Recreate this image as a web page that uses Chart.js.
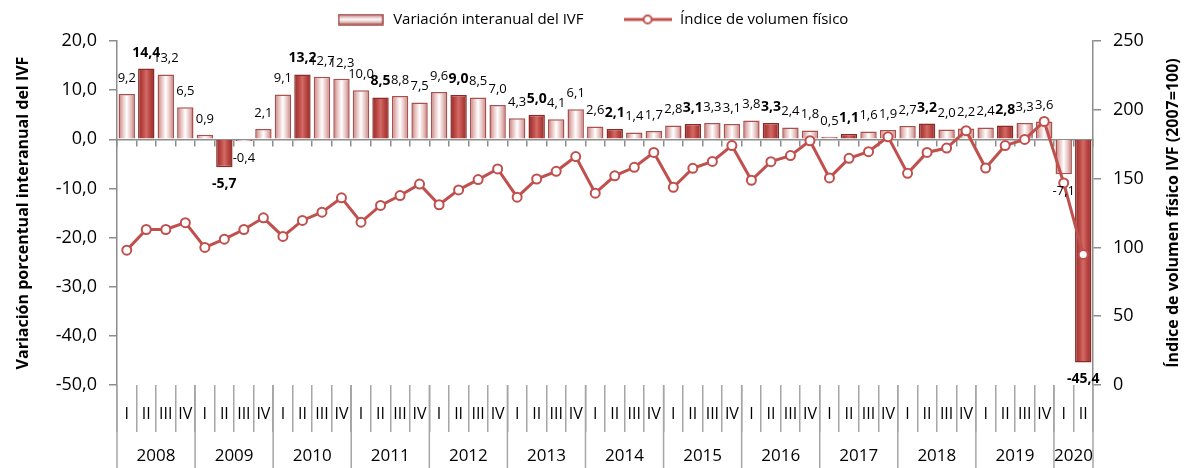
<!DOCTYPE html>
<html>
<head>
<meta charset="utf-8">
<script src="https://cdn.jsdelivr.net/npm/chart.js@4.4.1/dist/chart.umd.min.js"></script>
<style>
  html, body { margin: 0; padding: 0; background: #fff; }
  #wrap { width: 1184px; height: 468px; }
</style>
</head>
<body>
<div id="wrap"><canvas id="ivfChart"></canvas></div>
<script>
// data
const years = ['2008', '2009', '2010', '2011', '2012', '2013', '2014', '2015', '2016', '2017', '2018', '2019', '2020'];
const quartersPerYear = [4, 4, 4, 4, 4, 4, 4, 4, 4, 4, 4, 4, 2];
const quarterNames = ['I', 'II', 'III', 'IV'];

const variacion = [
  9.2, 14.4, 13.2, 6.5,
  0.9, -5.7, -0.4, 2.1,
  9.1, 13.2, 12.7, 12.3,
  10.0, 8.5, 8.8, 7.5,
  9.6, 9.0, 8.5, 7.0,
  4.3, 5.0, 4.1, 6.1,
  2.6, 2.1, 1.4, 1.7,
  2.8, 3.1, 3.3, 3.1,
  3.8, 3.3, 2.4, 1.8,
  0.5, 1.1, 1.6, 1.9,
  2.7, 3.2, 2.0, 2.2,
  2.4, 2.8, 3.3, 3.6,
  -7.1, -45.4
];

const indice = [
  98, 113, 113, 118,
  100, 106, 113, 121.5,
  108, 119.6, 125.6, 136,
  118.3, 130.5, 137.7, 146,
  131, 141.8, 149.3, 157,
  136.5, 149.7, 155.3, 166,
  139.4, 152, 158.2, 169,
  143.7, 157.5, 162.5, 174,
  148.8, 162.3, 166.7, 177.5,
  150.5, 164.7, 169.6, 180.4,
  153.8, 169, 172.2, 184.8,
  157.7, 174, 178.5, 191.5,
  146.8, 94.8
];

const leftTitle = 'Variación porcentual interanual del IVF';
const rightTitle = 'Índice de volumen físico IVF (2007=100)';

const quarterLabels = [];
const yearStart = [];
years.forEach((y, i) => {
  yearStart.push(quarterLabels.length);
  for (let q = 0; q < quartersPerYear[i]; q++) quarterLabels.push(quarterNames[q]);
});

const FONT = '"Open Sans", "DejaVu Sans", sans-serif';
const RED = '#c0504d';
const fmt = v => v.toFixed(1).replace('.', ',');
const isDark = i => i % 4 === 1;

function barFill(c) {
  const chart = c.chart;
  const xs = chart.scales.x;
  const dark = isDark(c.dataIndex);
  if (!xs || !chart.chartArea || c.dataIndex === undefined) return dark ? RED : '#f2dcdb';
  const cx = xs.getPixelForValue(c.dataIndex);
  const half = xs.width / quarterLabels.length * 0.84 / 2;
  const g = chart.ctx.createLinearGradient(cx - half, 0, cx + half, 0);
  if (dark) {
    g.addColorStop(0, '#8f2e2b');
    g.addColorStop(0.25, '#b8433f');
    g.addColorStop(0.5, '#d26a66');
    g.addColorStop(0.75, '#b8433f');
    g.addColorStop(1, '#8f2e2b');
  } else {
    g.addColorStop(0, '#b66f6d');
    g.addColorStop(0.2, '#e2b5b3');
    g.addColorStop(0.5, '#ffffff');
    g.addColorStop(0.8, '#e2b5b3');
    g.addColorStop(1, '#b66f6d');
  }
  return g;
}

function makeBarSwatch() {
  const cv = document.createElement('canvas');
  cv.width = 46; cv.height = 12;
  const c = cv.getContext('2d');
  const g = c.createLinearGradient(0, 0, 0, 12);
  g.addColorStop(0, '#b86866');
  g.addColorStop(0.5, '#ffffff');
  g.addColorStop(1, '#b86866');
  c.fillStyle = g;
  c.fillRect(1, 1, 44, 10);
  c.strokeStyle = '#a04846';
  c.lineWidth = 1.5;
  c.strokeRect(1, 1, 44, 10);
  return cv;
}

function makeLineSwatch() {
  const cv = document.createElement('canvas');
  cv.width = 48; cv.height = 12;
  const c = cv.getContext('2d');
  c.strokeStyle = RED;
  c.lineWidth = 3;
  c.beginPath(); c.moveTo(0, 6); c.lineTo(48, 6); c.stroke();
  c.beginPath(); c.arc(24, 6, 4, 0, Math.PI * 2);
  c.fillStyle = '#fff'; c.fill();
  c.lineWidth = 2; c.stroke();
  return cv;
}

const extras = {
  id: 'extras',
  afterDatasetsDraw(chart) {
    const c = chart.ctx;
    const meta = chart.getDatasetMeta(1);
    c.save();
    c.fillStyle = '#000';
    c.textAlign = 'center';
    c.textBaseline = 'middle';
    meta.data.forEach((bar, i) => {
      const v = variacion[i];
      c.font = isDark(i) ? 'bold 14px ' + FONT : '13px ' + FONT;
      const y = v >= 0 ? bar.y - 16 : bar.y + 17;
      c.fillText(fmt(v), bar.x, y);
    });
    c.restore();
  },
  afterDraw(chart) {
    const c = chart.ctx;
    const xs = chart.scales.x;
    const area = chart.chartArea;
    const step = xs.width / quarterLabels.length;
    c.save();
    // year separators and labels
    c.strokeStyle = '#a6a6a6';
    c.lineWidth = 1.5;
    c.fillStyle = '#000';
    c.font = '17px ' + FONT;
    c.textAlign = 'center';
    c.textBaseline = 'middle';
    years.forEach((y, i) => {
      const x0 = xs.getPixelForValue(yearStart[i]) - step / 2;
      const x1 = x0 + step * quartersPerYear[i];
      c.beginPath(); c.moveTo(x0, area.bottom); c.lineTo(x0, chart.height); c.stroke();
      if (i === years.length - 1) {
        c.beginPath(); c.moveTo(x1, area.bottom); c.lineTo(x1, chart.height); c.stroke();
      }
      c.fillText(y, (x0 + x1) / 2, 456);
    });
    // axis titles, both read bottom-to-top
    c.font = 'bold 16px ' + FONT;
    const midY = (area.top + area.bottom) / 2;
    c.translate(23, midY);
    c.rotate(-Math.PI / 2);
    c.fillText(leftTitle, 0, 0);
    c.rotate(Math.PI / 2);
    c.translate(1173 - 23, 0);
    c.rotate(-Math.PI / 2);
    c.fillText(rightTitle, 0, 0);
    c.restore();
  }
};

const axisGrey = '#8c8c8c';

new Chart(document.getElementById('ivfChart'), {
  type: 'bar',
  data: {
    labels: quarterLabels,
    datasets: [
      {
        type: 'line',
        label: 'Índice de volumen físico',
        data: indice,
        yAxisID: 'y1',
        borderColor: RED,
        borderWidth: 3,
        pointRadius: 4.5,
        pointBackgroundColor: '#fff',
        pointBorderColor: RED,
        pointBorderWidth: 2,
        tension: 0
      },
      {
        type: 'bar',
        label: 'Variación interanual del IVF',
        data: variacion,
        yAxisID: 'y',
        backgroundColor: barFill,
        borderColor: c => isDark(c.dataIndex) ? '#8b2b29' : '#a9514f',
        borderWidth: 1.5,
        barPercentage: 0.84,
        categoryPercentage: 1
      }
    ]
  },
  options: {
    responsive: true,
    maintainAspectRatio: false,
    animation: false,
    devicePixelRatio: 1,
    layout: { padding: { top: 8, left: 0, right: 0, bottom: 0 } },
    plugins: {
      tooltip: { enabled: false },
      legend: {
        display: true,
        position: 'top',
        labels: {
          usePointStyle: true,
          pointStyleWidth: 50,
          padding: 4,
          color: '#000',
          font: { family: FONT, size: 15 },
          generateLabels: () => [
            { text: 'Variación interanual del IVF         ', pointStyle: makeBarSwatch(), fontColor: '#000', lineWidth: 0, datasetIndex: 1 },
            { text: 'Índice de volumen físico', pointStyle: makeLineSwatch(), fontColor: '#000', lineWidth: 0, datasetIndex: 0 }
          ]
        }
      }
    },
    scales: {
      // empty spacer between legend and plot
      xTop: {
        type: 'category',
        position: 'top',
        border: { display: false },
        grid: { display: false },
        ticks: { display: false },
        afterFit: s => { s.height = 4; }
      },
      x: {
        type: 'category',
        position: 'bottom',
        offset: true,
        border: { display: false },
        grid: { offset: true, drawOnChartArea: false, tickLength: 47, color: '#a6a6a6', lineWidth: 1.5 },
        ticks: { padding: -27, color: '#000', font: { family: FONT, size: 16 }, maxRotation: 0, autoSkip: false },
        afterFit: s => { s.height = 83; }
      },
      xZero: {
        type: 'category',
        position: { y: 0 },
        offset: true,
        border: { display: true, color: axisGrey, width: 1.5 },
        grid: { offset: true, drawOnChartArea: false, tickLength: 6, color: axisGrey, lineWidth: 1.5 },
        ticks: { display: false }
      },
      y: {
        position: 'left',
        min: -50,
        max: 20,
        border: { color: axisGrey, width: 1.5 },
        grid: { drawOnChartArea: false, tickLength: 8, color: axisGrey, lineWidth: 1.5 },
        ticks: { stepSize: 10, padding: 12, color: '#000', font: { family: FONT, size: 18 }, callback: v => fmt(v) },
        afterFit: s => { s.width = 117; }
      },
      y1: {
        position: 'right',
        min: 0,
        max: 250,
        border: { color: axisGrey, width: 1.5 },
        grid: { drawOnChartArea: false, tickLength: 8, color: axisGrey, lineWidth: 1.5 },
        ticks: { stepSize: 50, padding: 12, color: '#000', font: { family: FONT, size: 18 } },
        afterFit: s => { s.width = 91; }
      }
    }
  },
  plugins: [extras]
});
</script>
</body>
</html>
